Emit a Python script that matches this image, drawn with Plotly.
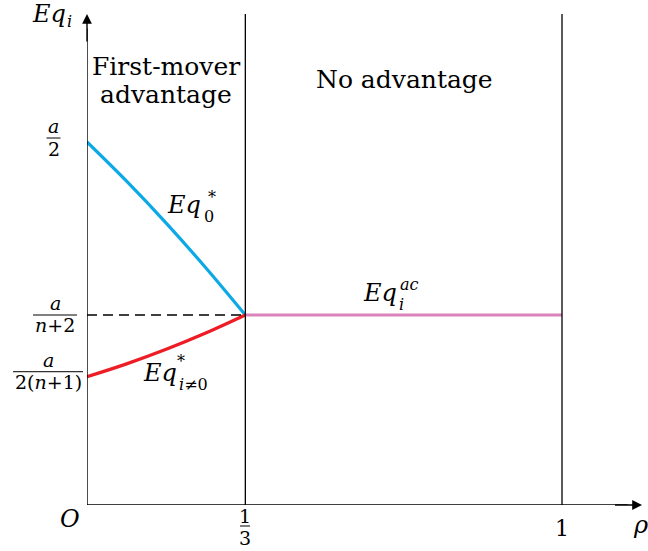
import plotly.graph_objects as go

# Expected quantities (in units of a) versus rho
rho_leader = [0.0, 0.0833, 0.1667, 0.2500, 1 / 3]
eq_leader = [0.500, 0.4460, 0.3883, 0.3268, 0.2617]

rho_follower = [0.0, 0.0833, 0.1667, 0.2500, 1 / 3]
eq_follower = [0.1767, 0.1944, 0.2145, 0.2369, 0.2617]

rho_ac = [1 / 3, 1.0]
eq_ac = [0.2617, 0.2617]

Y_HALF = 0.500      # a/2
Y_MID = 0.2617      # a/(n+2)
Y_LOW = 0.1767      # a/(2(n+1))
RHO_SPLIT = 1 / 3
RHO_END = 1.0

# pixel layout of the drawing area
W, H = 648, 551
L, R, T, B = 87, 6, 14, 46
PW, PH = W - L - R, H - T - B
XSCALE, YSCALE = 475.0, 726.0
X_MAX = PW / XSCALE
Y_MAX = PH / YSCALE


def xp(p):
    """pixel column -> paper x"""
    return (p - L) / PW


def yp(p):
    """pixel row -> paper y"""
    return (H - B - p) / PH


def row_of(v):
    """data y value -> pixel row"""
    return H - B - v * YSCALE


FONT = "DejaVu Serif"
BLACK = "#000000"

fig = go.Figure()

fig.add_trace(go.Scatter(x=rho_leader, y=eq_leader, mode="lines",
                         line=dict(color="#0DA9E6", width=3.2, shape="spline"),
                         hoverinfo="skip"))
fig.add_trace(go.Scatter(x=rho_follower, y=eq_follower, mode="lines",
                         line=dict(color="#EE1C25", width=3.2, shape="spline"),
                         hoverinfo="skip"))
fig.add_trace(go.Scatter(x=rho_ac, y=eq_ac, mode="lines",
                         line=dict(color="#D883B9", width=3.2),
                         hoverinfo="skip"))
fig.add_trace(go.Scatter(x=[0, RHO_SPLIT], y=[Y_MID, Y_MID], mode="lines",
                         line=dict(color=BLACK, width=1.3, dash="10px,6px"),
                         hoverinfo="skip"))

shapes = []
# axes
shapes.append(dict(type="line", xref="x", yref="y", x0=0, x1=0, y0=0, y1=Y_MAX - 0.02,
                   line=dict(color=BLACK, width=1.4)))
shapes.append(dict(type="line", xref="x", yref="y", x0=0, x1=X_MAX - 0.03, y0=0, y1=0,
                   line=dict(color=BLACK, width=1.4)))
# region boundaries
for xv in (RHO_SPLIT, RHO_END):
    shapes.append(dict(type="line", xref="x", yref="y", x0=xv, x1=xv, y0=0, y1=Y_MAX,
                       line=dict(color=BLACK, width=1.3)))

annotations = []
# arrow heads
annotations.append(dict(x=0, y=Y_MAX, ax=0, ay=Y_MAX - 0.04, xref="x", yref="y",
                        axref="x", ayref="y", showarrow=True, arrowhead=2,
                        arrowsize=1.4, arrowwidth=1.4, arrowcolor=BLACK, text=""))
annotations.append(dict(x=X_MAX, y=0, ax=X_MAX - 0.06, ay=0, xref="x", yref="y",
                        axref="x", ayref="y", showarrow=True, arrowhead=2,
                        arrowsize=1.4, arrowwidth=1.4, arrowcolor=BLACK, text=""))


def text(x, y, s, size=24, xanchor="center", italic=False):
    if italic:
        s = "<i>" + s + "</i>"
    annotations.append(dict(x=xp(x), y=yp(y), xref="paper", yref="paper", text=s,
                            showarrow=False, xanchor=xanchor, yanchor="middle",
                            font=dict(family=FONT, size=size, color=BLACK)))


def frac(xc, ybar, num, den, half, size=19, up=11, down=11):
    text(xc, ybar - up, num, size=size)
    text(xc, ybar + down, den, size=size)
    shapes.append(dict(type="line", xref="paper", yref="paper",
                       x0=xp(xc - half), x1=xp(xc + half),
                       y0=yp(ybar), y1=yp(ybar), line=dict(color=BLACK, width=1)))


# region labels
text(166, 66, "First-mover", size=25)
text(166, 95, "advantage", size=25)
text(404, 79, "No advantage", size=25)

# axis titles
text(49, 14, "Eq", size=24, italic=True)
text(69, 21, "i", size=16, italic=True)
text(640, 525, "ρ", size=24, italic=True)
text(70, 519, "O", size=24, italic=True)

# y tick labels
frac(53.5, row_of(Y_HALF) - 4, "<i>a</i>", "2", 7, up=12, down=11)
frac(55, row_of(Y_MID), "<i>a</i>", "<i>n</i>+2", 22, up=12, down=10)
frac(48, row_of(Y_LOW) - 5, "<i>a</i>", "2(<i>n</i>+1)", 35, up=12, down=10)

# x tick labels
frac(245, 526, "1", "3", 5, up=10, down=12)
text(562, 528, "1", size=22)

# curve labels
text(184, 205, "Eq", size=24, italic=True)
text(212, 197, "*", size=16)
text(209, 216, "0", size=16)

text(380, 293, "Eq", size=24, italic=True)
text(409, 284, "ac", size=16, italic=True)
text(401, 304, "i", size=16, italic=True)

text(160, 373, "Eq", size=24, italic=True)
text(181, 361, "*", size=16)
text(177, 384, "<i>i</i>≠0", size=16, xanchor="left")

fig.update_layout(
    width=W, height=H,
    margin=dict(l=L, r=R, t=T, b=B),
    paper_bgcolor="white", plot_bgcolor="white",
    showlegend=False,
    font=dict(family=FONT),
    xaxis=dict(range=[0, X_MAX], visible=False, fixedrange=True),
    yaxis=dict(range=[0, Y_MAX], visible=False, fixedrange=True),
    shapes=shapes,
    annotations=annotations,
)

fig.write_html("out.html")
